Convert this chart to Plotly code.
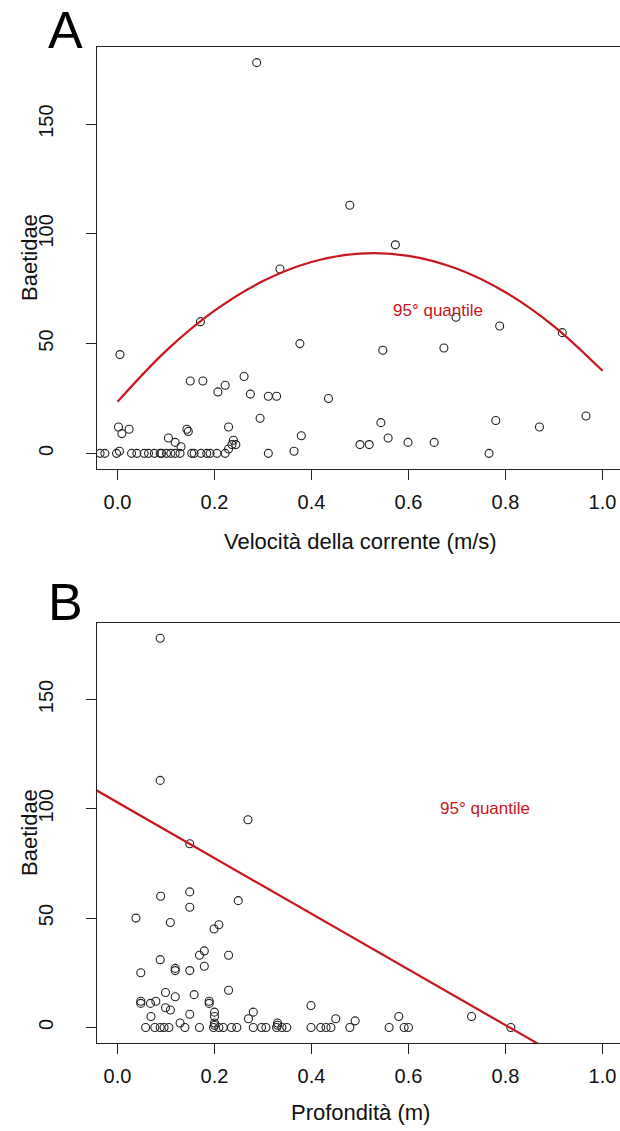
import plotly.graph_objects as go

# ---------------- Panel A: Velocità della corrente vs Baetidae ----------------
vel_x = [0.287, 0.479, 0.573, 0.335, 0.171, 0.698, 0.788, 0.917, 0.376, 0.547,
         0.673, 0.005, 0.150, 0.176, 0.261, 0.222, 0.207, 0.274, 0.311, 0.328,
         0.435, 0.294, 0.780, 0.543, 0.966, 0.870, 0.002, 0.024, 0.009, 0.143,
         0.146, 0.229, 0.105, 0.119, 0.131, 0.239, 0.229, 0.236, 0.244, 0.379,
         0.558, 0.599, 0.653, 0.500, 0.519, 0.364, 0.004,
         -0.036, -0.026, -0.002, 0.029, 0.040, 0.055, 0.064, 0.076, 0.088, 0.091,
         0.101, 0.110, 0.119, 0.129, 0.153, 0.158, 0.172, 0.184, 0.191, 0.205,
         0.222, 0.311, 0.766]
vel_y = [178, 113, 95, 84, 60, 62, 58, 55, 50, 47,
         48, 45, 33, 33, 35, 31, 28, 27, 26, 26,
         25, 16, 15, 14, 17, 12, 12, 11, 9, 11,
         10, 12, 7, 5, 3, 6, 2, 4, 4, 8,
         7, 5, 5, 4, 4, 1, 1,
         0, 0, 0, 0, 0, 0, 0, 0, 0, 0,
         0, 0, 0, 0, 0, 0, 0, 0, 0, 0,
         0, 0, 0]

# 95th quantile curve (panel A)
qA_x = [0.0, 0.1, 0.2, 0.3, 0.4, 0.5, 0.6, 0.7, 0.8, 0.9, 1.0]
qA_y = [23.5, 46.7, 65.0, 78.5, 87.2, 91.0, 90.0, 84.1, 73.4, 57.9, 37.6]

# ---------------- Panel B: Profondità vs Baetidae ----------------
prof_x = [0.088, 0.088, 0.269, 0.149, 0.149, 0.089, 0.249, 0.149, 0.038, 0.109,
          0.199, 0.209, 0.088, 0.169, 0.179, 0.229, 0.179, 0.119, 0.119, 0.149,
          0.048, 0.229, 0.099, 0.119, 0.158, 0.048, 0.048, 0.068, 0.079, 0.189,
          0.189, 0.099, 0.109, 0.149, 0.069, 0.200, 0.200, 0.280, 0.270, 0.129,
          0.399, 0.450, 0.490, 0.580, 0.730, 0.200, 0.330, 0.200, 0.330,
          0.058, 0.077, 0.088, 0.096, 0.106, 0.139, 0.169, 0.198, 0.209, 0.218,
          0.235, 0.246, 0.280, 0.297, 0.306, 0.328, 0.339, 0.349, 0.399, 0.419,
          0.430, 0.440, 0.479, 0.560, 0.591, 0.600, 0.811]
prof_y = [178, 113, 95, 84, 62, 60, 58, 55, 50, 48,
          45, 47, 31, 33, 35, 33, 28, 27, 26, 26,
          25, 17, 16, 14, 15, 12, 11, 11, 12, 12,
          11, 9, 8, 6, 5, 7, 5, 7, 4, 2,
          10, 4, 3, 5, 5, 2, 2, 1, 1,
          0, 0, 0, 0, 0, 0, 0, 0, 0, 0,
          0, 0, 0, 0, 0, 0, 0, 0, 0, 0,
          0, 0, 0, 0, 0, 0, 0]

# 95th quantile line (panel B)
qB_x = [-0.05, 0.90]
qB_y = [109.3, -11.7]

x_ticks = [0.0, 0.2, 0.4, 0.6, 0.8, 1.0]
x_labels = ["0.0", "0.2", "0.4", "0.6", "0.8", "1.0"]
y_ticks = [0, 50, 100, 150]
y_labels = ["0", "50", "100", "150"]

title_x_A = "Velocità della corrente (m/s)"
title_x_B = "Profondità (m)"
title_y = "Baetidae"
q_label = "95° quantile"

RED = "#C8161D"
INK = "#222222"
FONT = "Liberation Sans, Arial, sans-serif"

W, H = 620, 1131
ML, MR, MT, MB = 97, 0, 47, 88
PW, PH = W - ML - MR, H - MT - MB


def pxp(x):
    return (x - ML) / PW


def pyp(y):
    return (H - MB - y) / PH


marker = dict(symbol="circle-open", size=8, color=INK, line=dict(width=1.1, color=INK))

fig = go.Figure()
fig.add_trace(go.Scatter(x=vel_x, y=vel_y, mode="markers", marker=marker,
                         xaxis="x", yaxis="y", hoverinfo="x+y"))
fig.add_trace(go.Scatter(x=qA_x, y=qA_y, mode="lines",
                         line=dict(color=RED, width=2.2, shape="spline"),
                         xaxis="x", yaxis="y"))
fig.add_trace(go.Scatter(x=prof_x, y=prof_y, mode="markers", marker=marker,
                         xaxis="x2", yaxis="y2", hoverinfo="x+y"))
fig.add_trace(go.Scatter(x=qB_x, y=qB_y, mode="lines",
                         line=dict(color=RED, width=2.2),
                         xaxis="x2", yaxis="y2"))

common = dict(showline=True, linecolor=INK, linewidth=1, ticks="outside",
              ticklen=10, tickwidth=1, tickcolor=INK, showgrid=False,
              zeroline=False, tickfont=dict(size=20, color="#111", family=FONT))
xr = [(ML - 117.5) / 485, (W - 117.5) / 485]
yr = [-7.12, 185.12]

dom_A = [pyp(469), 1.0]
dom_B = [0.0, pyp(622.7)]

xcommon = dict(common, range=xr, tickvals=x_ticks, ticktext=x_labels,
               mirror=True, domain=[0, 1], ticklabelstandoff=5)
ycommon = dict(common, range=yr, tickvals=y_ticks, ticktext=y_labels,
               tickangle=-90, ticklabelstandoff=25)

fig.update_layout(
    width=W, height=H,
    margin=dict(l=ML, r=MR, t=MT, b=MB, pad=0),
    paper_bgcolor="white", plot_bgcolor="white",
    showlegend=False,
    font=dict(family=FONT, color="#111"),
    xaxis=dict(xcommon, anchor="y"),
    yaxis=dict(ycommon, anchor="x", domain=dom_A),
    xaxis2=dict(xcommon, anchor="y2"),
    yaxis2=dict(ycommon, anchor="x2", domain=dom_B),
)

ann = []
# panel letters
ann.append(dict(text="A", x=pxp(65), y=pyp(29.5), xref="paper", yref="paper",
                showarrow=False, font=dict(size=52, color="#000", family=FONT),
                xanchor="center", yanchor="middle"))
ann.append(dict(text="B", x=pxp(65), y=pyp(601.5), xref="paper", yref="paper",
                showarrow=False, font=dict(size=52, color="#000", family=FONT),
                xanchor="center", yanchor="middle"))
# y titles
for yc in (258, 833):
    ann.append(dict(text=title_y, x=pxp(29), y=pyp(yc), xref="paper", yref="paper",
                    showarrow=False, textangle=-90,
                    font=dict(size=22, color="#111", family=FONT),
                    xanchor="center", yanchor="middle"))
# x titles
ann.append(dict(text=title_x_A, x=pxp(360), y=pyp(541), xref="paper", yref="paper",
                showarrow=False, font=dict(size=22, color="#111", family=FONT),
                xanchor="center", yanchor="middle"))
ann.append(dict(text=title_x_B, x=pxp(360), y=pyp(1112), xref="paper", yref="paper",
                showarrow=False, font=dict(size=22, color="#111", family=FONT),
                xanchor="center", yanchor="middle"))
# quantile labels (data coordinates)
ann.append(dict(text=q_label, x=0.66, y=65, xref="x", yref="y", showarrow=False,
                font=dict(size=17, color=RED, family=FONT),
                xanchor="center", yanchor="middle"))
ann.append(dict(text=q_label, x=0.758, y=100, xref="x2", yref="y2", showarrow=False,
                font=dict(size=17, color=RED, family=FONT),
                xanchor="center", yanchor="middle"))
fig.update_layout(annotations=ann)

fig.write_html("out.html")
